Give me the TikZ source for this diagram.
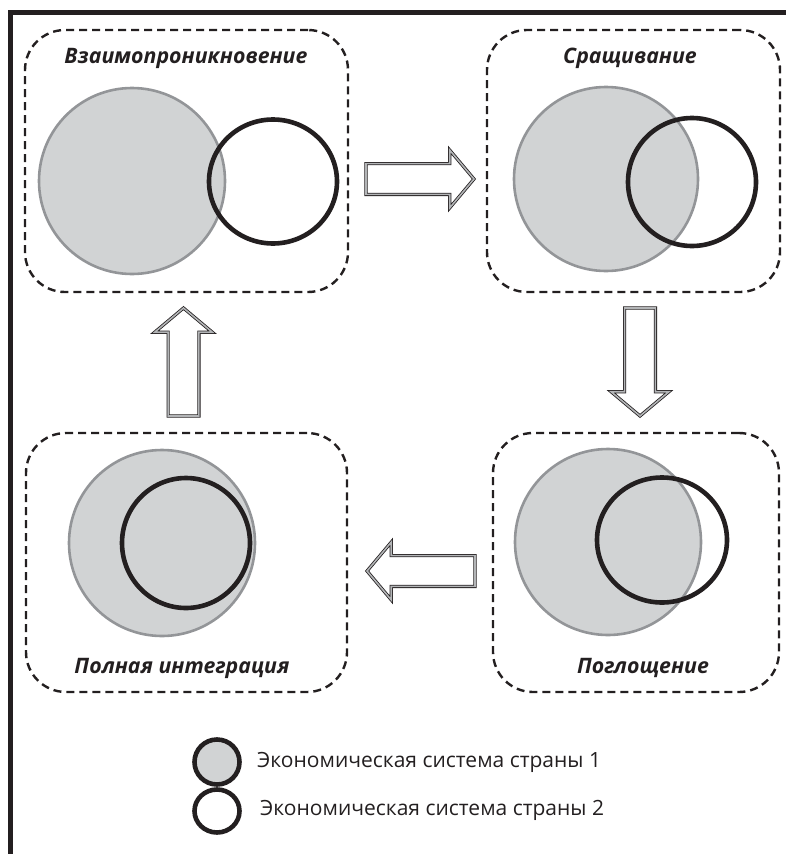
\documentclass[tikz,border=0pt]{standalone}
\usepackage{fontspec}
\setmainfont{Open Sans}
\usetikzlibrary{shapes.geometric,shapes.arrows}
\definecolor{ink}{HTML}{231F20}
\definecolor{fillgrey}{HTML}{D1D3D4}
\definecolor{rimgrey}{HTML}{939598}

\begin{document}
\begin{tikzpicture}[x=1pt, y=-1pt,
	stage/.style={rectangle, draw=ink, line width=2.4pt, dash pattern=on 8pt off 5pt, rounded corners=40pt, inner sep=0},
	title/.style={font=\fontsize{21.3}{25}\selectfont\bfseries\itshape, text=ink},
	countryA/.style={circle, draw=rimgrey, fill=fillgrey, line width=2.6pt, inner sep=0},
	countryB/.style={ellipse, draw=ink, line width=4.6pt, inner sep=0},
	flow/.style={single arrow, draw=ink, fill=white, line width=0.8pt, double=rimgrey!70, double distance=1.6pt, minimum height=108pt, inner xsep=0, inner ysep=15pt, single arrow head extend=13.5pt, single arrow tip angle=100},
	legend/.style={font=\fontsize{21}{25}\selectfont, text=ink, anchor=west, inner sep=0}]
			\useasboundingbox (0,0) rectangle (786,854);
			\draw[ink, line width=4.4pt] (10.5,854) -- (10.5,12.5) -- (786,12.5);
			% stages
			\node (b1) [stage, minimum width=323pt, minimum height=262pt] at (186.5,161) {};
			\node (b2) [stage, minimum width=293pt, minimum height=262pt] at (633.5,161) {};
			\node (b3) [stage, minimum width=286pt, minimum height=259pt] at (636,562.5) {};
			\node (b4) [stage, minimum width=321pt, minimum height=259pt] at (186.5,562.5) {};
			\node (t1) [title] at (186,58) {Взаимопроникновение};
			\node (t2) [title] at (630,58) {Сращивание};
			\node (t3) [title] at (643,668) {Поглощение};
			\node (t4) [title] at (182,668) {Полная интеграция};
			% the two systems
			\node (s1a) [countryA, minimum size=186pt] at (132,181) {};
			\node (s1b) [countryB, minimum width=128pt, minimum height=124pt] at (273,181.5) {};
			\node (s2a) [countryA, minimum size=184pt] at (606,179) {};
			\node (s2b) [countryB, minimum width=128pt, minimum height=128pt] at (692,182) {};
			\node (s3a) [countryA, minimum size=186pt] at (608,542) {};
			\node (s3b) [countryB, minimum width=130pt, minimum height=125pt] at (662,540) {};
			\node (s4a) [countryA, minimum size=186pt] at (162,543) {};
			\node (s4b) [countryB, minimum width=128pt, minimum height=130pt] at (186,543) {};
			% block arrows
			\node (a12) [flow] at (413.5,179) {};
			\node (a23) [flow, rotate=-90] at (640,355.5) {};
			\node (a34) [flow, rotate=180] at (427.5,571) {};
			\node (a41) [flow, rotate=90] at (183.5,368.5) {};
			% legend
			\node (k1) [countryA, draw=ink, line width=4.6pt, minimum size=45pt] at (217,762) {};
			\node (k1t) [legend] at (257,762) {Экономическая система страны 1};
			\node (k2) [countryB, minimum width=45pt, minimum height=43pt] at (217,811) {};
			\node (k2t) [legend] at (260,810) {Экономическая система страны 2};
		\end{tikzpicture}
\end{document}
